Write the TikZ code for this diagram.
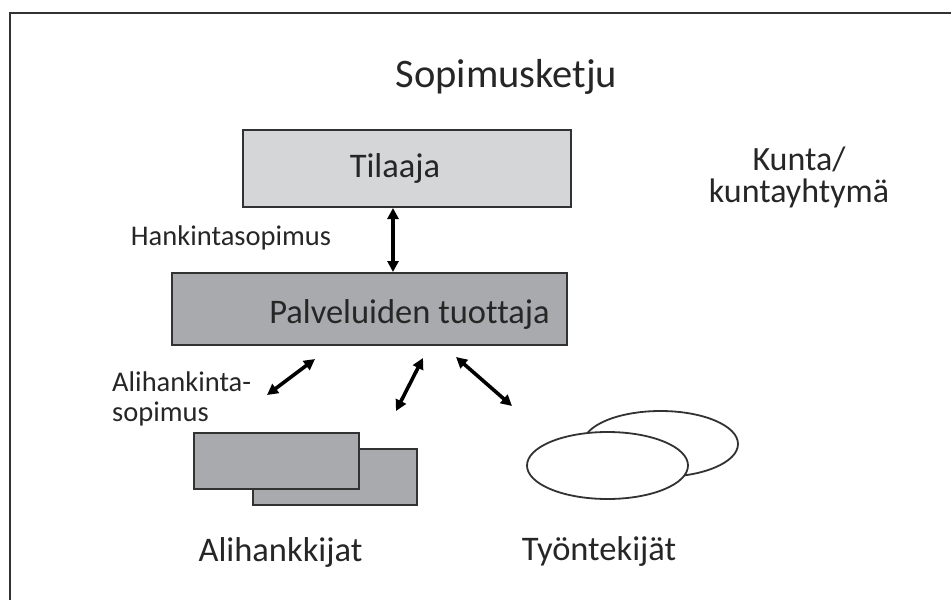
\documentclass[tikz,border=0pt]{standalone}
\usepackage{fontspec}
\setmainfont{Carlito}[Ligatures=NoCommon]
\usetikzlibrary{arrows.meta}
\definecolor{paleFill}{RGB}{212,214,216}
\definecolor{midFill}{RGB}{168,170,173}
\definecolor{edge}{RGB}{50,50,50}

\begin{document}
\begin{tikzpicture}[x=1pt, y=-1pt,
    box/.style={draw=edge, line width=2pt, inner sep=0pt},
    lab/.style={inner sep=0pt, text=black!85},
    link/.style={{Triangle[length=11pt,width=11pt]}-{Triangle[length=11pt,width=11pt]}, line width=3.6pt},
    huge/.style={font=\fontsize{40.5}{48}\selectfont},
    big/.style={font=\fontsize{34.5}{41}\selectfont},
    small/.style={font=\fontsize{28.5}{30}\selectfont}]
    \useasboundingbox (0,0) rectangle (951,600);
    % frame
    \draw[edge, line width=2.2pt] (10,600) -- (10,13) -- (951,13);
    % boxes
    \node[box, fill=paleFill, minimum width=328pt, minimum height=77pt] (tilaaja) at (407,168.5) {};
    \node[box, fill=midFill, minimum width=395pt, minimum height=72pt] (tuottaja) at (369.5,309) {};
    \node[box, fill=midFill, minimum width=164pt, minimum height=56pt] (aliB) at (335,477) {};
    \node[box, fill=midFill, minimum width=165pt, minimum height=56pt] (aliA) at (276.5,461) {};
    \draw[edge, line width=1.8pt, fill=white] (660.5,444) ellipse (77.5 and 33);
    \draw[edge, line width=1.8pt, fill=white] (607.5,465.5) ellipse (80.5 and 33.5);
    % texts
    \node[lab, huge, anchor=base] (otsikko) at (506.5,87) {Sopimusketju};
    \node[lab, big, anchor=base] (tilaajaT) at (395,177) {Tilaaja};
    \node[lab, big, anchor=base] (tuottajaT) at (409.5,323) {Palveluiden tuottaja};
    \node[lab, font=\fontsize{34}{32}\selectfont, align=center] (kunta) at (799,177) {Kunta/\\kuntayhtymä};
    \node[lab, small, anchor=base] (hankinta) at (231,245) {Hankintasopimus};
    \node[lab, small, align=left, anchor=west] (alisop) at (112,399) {Alihankinta-\\sopimus};
    \node[lab, big, anchor=base] (alihankkijat) at (280.5,561) {Alihankkijat};
    \node[lab, big, anchor=base] (tyontekijat) at (599,560) {Työntekijät};
    % arrows
    \coordinate (mid) at (393,0);
    \coordinate (a1) at (315,359);
    \coordinate (b1) at (267,395);
    \coordinate (a2) at (423,358);
    \coordinate (b2) at (396,411);
    \coordinate (a3) at (456,357);
    \coordinate (b3) at (512,406);
    \draw[link] (tilaaja.south -| mid) -- (tuottaja.north -| mid);
    \draw[link] (a1) -- (b1);
    \draw[link] (a2) -- (b2);
    \draw[link] (a3) -- (b3);
\end{tikzpicture}
\end{document}
